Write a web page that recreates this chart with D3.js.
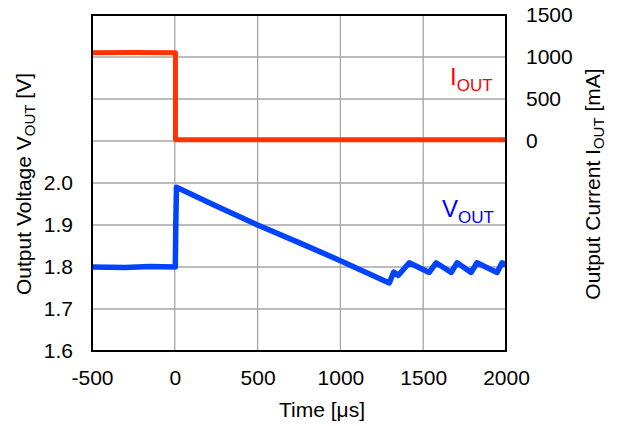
<!DOCTYPE html>
<html>
<head>
<meta charset="utf-8">
<script src="https://cdn.jsdelivr.net/npm/d3@7"></script>
<style>
  html, body { margin: 0; padding: 0; background: #fff; }
  svg { display: block; font-family: "Liberation Sans", Arial, sans-serif; }
</style>
</head>
<body>
<svg id="chart" width="617" height="426"></svg>
<script>
// ---- data ----
const timeTicks = [-500, 0, 500, 1000, 1500, 2000];
const voltTicks = [1.6, 1.7, 1.8, 1.9, 2.0];
const currTicks = [0, 500, 1000, 1500];
const gridVolt = [1.6, 1.7, 1.8, 1.9, 2.0, 2.1, 2.2, 2.3, 2.4];

const iTime = [-500, -250, 0, 4, 4, 500, 1000, 1500, 2000];
const iCurrent = [1052, 1054, 1052, 1052, 15, 14, 16, 15, 15];

const vTime = [-500, -300, -150, 3, 6, 10, 250, 500, 750, 1000, 1295, 1322, 1349, 1416, 1536, 1578, 1669, 1705, 1789, 1825, 1946, 1976, 2000];
const vVolt = [1.800, 1.799, 1.801, 1.800, 1.900, 1.990, 1.945, 1.900, 1.858, 1.815, 1.762, 1.788, 1.780, 1.810, 1.787, 1.810, 1.787, 1.810, 1.787, 1.810, 1.787, 1.810, 1.805];

// ---- layout ----
const pL = 92, pR = 506, pT = 15, pB = 351;
const svg = d3.select("#chart");

const x = d3.scaleLinear().domain([-500, 2000]).range([pL, pR]);
const yV = d3.scaleLinear().domain([1.6, 2.4]).range([pB, pT]);
const yI = d3.scaleLinear().domain([-2500, 1500]).range([pB, pT]);

// grid
const grid = svg.append("g").attr("stroke", "#a6a6a6").attr("stroke-width", 1.3);
grid.selectAll("line.v").data(timeTicks).join("line").attr("class", "v")
  .attr("x1", d => x(d)).attr("x2", d => x(d))
  .attr("y1", pT).attr("y2", pB);
grid.selectAll("line.h").data(gridVolt).join("line").attr("class", "h")
  .attr("x1", pL).attr("x2", pR)
  .attr("y1", d => yV(d)).attr("y2", d => yV(d));

// lines
const lineI = d3.line().x((d, i) => x(iTime[i])).y(d => yI(d));
svg.append("path").datum(iCurrent)
  .attr("d", lineI).attr("fill", "none")
  .attr("stroke", "#ff3300").attr("stroke-width", 5).attr("stroke-linejoin", "round");

const lineV = d3.line().x((d, i) => x(vTime[i])).y(d => yV(d));
svg.append("path").datum(vVolt)
  .attr("d", lineV).attr("fill", "none")
  .attr("stroke", "#0044ff").attr("stroke-width", 5.5).attr("stroke-linejoin", "round");

// frame
svg.append("rect").attr("x", pL).attr("y", pT)
  .attr("width", pR - pL).attr("height", pB - pT)
  .attr("fill", "none").attr("stroke", "#000").attr("stroke-width", 2);

// axes (labels only, no tick marks)
const fs = 21;
const ff = "Liberation Sans, Arial, sans-serif";
const xAxis = d3.axisBottom(x).tickValues(timeTicks).tickSize(0).tickPadding(0).tickFormat(d => String(d));
const gx = svg.append("g").attr("transform", `translate(0,${pB})`).call(xAxis);
gx.select(".domain").remove();
gx.selectAll("text").attr("font-size", fs).attr("font-family", ff)
  .attr("fill", "#000").attr("dy", null).attr("y", 34);

const yAxisL = d3.axisLeft(yV).tickValues(voltTicks).tickSize(0).tickPadding(19).tickFormat(d3.format(".1f"));
const gl = svg.append("g").attr("transform", `translate(${pL},0)`).call(yAxisL);
gl.select(".domain").remove();
gl.selectAll("text").attr("font-size", fs).attr("font-family", ff).attr("fill", "#000");

const yAxisR = d3.axisRight(yI).tickValues(currTicks).tickSize(0).tickPadding(20).tickFormat(d => String(d));
const gr = svg.append("g").attr("transform", `translate(${pR},0)`).call(yAxisR);
gr.select(".domain").remove();
gr.selectAll("text").attr("font-size", fs).attr("font-family", ff).attr("fill", "#000");

// axis titles
svg.append("text").attr("x", 322).attr("y", 417).attr("text-anchor", "middle")
  .attr("font-size", fs).attr("fill", "#000").text("Time [μs]");

function subTitle(tx, ty, pre, sub, post) {
  const t = svg.append("text").attr("transform", `translate(${tx},${ty}) rotate(-90)`)
    .attr("text-anchor", "middle").attr("font-size", fs).attr("fill", "#000");
  t.append("tspan").text(pre);
  t.append("tspan").attr("font-size", 15).attr("dy", 4).text(sub);
  t.append("tspan").attr("dy", -4).text(post);
}
subTitle(31, 184, "Output Voltage V", "OUT", " [V]");
subTitle(600, 184, "Output Current I", "OUT", " [mA]");

// series labels
function seriesLabel(tx, ty, main, sub, color) {
  const t = svg.append("text").attr("x", tx).attr("y", ty).attr("font-size", 24).attr("fill", color);
  t.append("tspan").text(main);
  t.append("tspan").attr("font-size", 17).attr("dy", 6).text(sub);
}
seriesLabel(450, 84.5, "I", "OUT", "#ff0000");
seriesLabel(442, 217, "V", "OUT", "#0000ff");
</script>
</body>
</html>
